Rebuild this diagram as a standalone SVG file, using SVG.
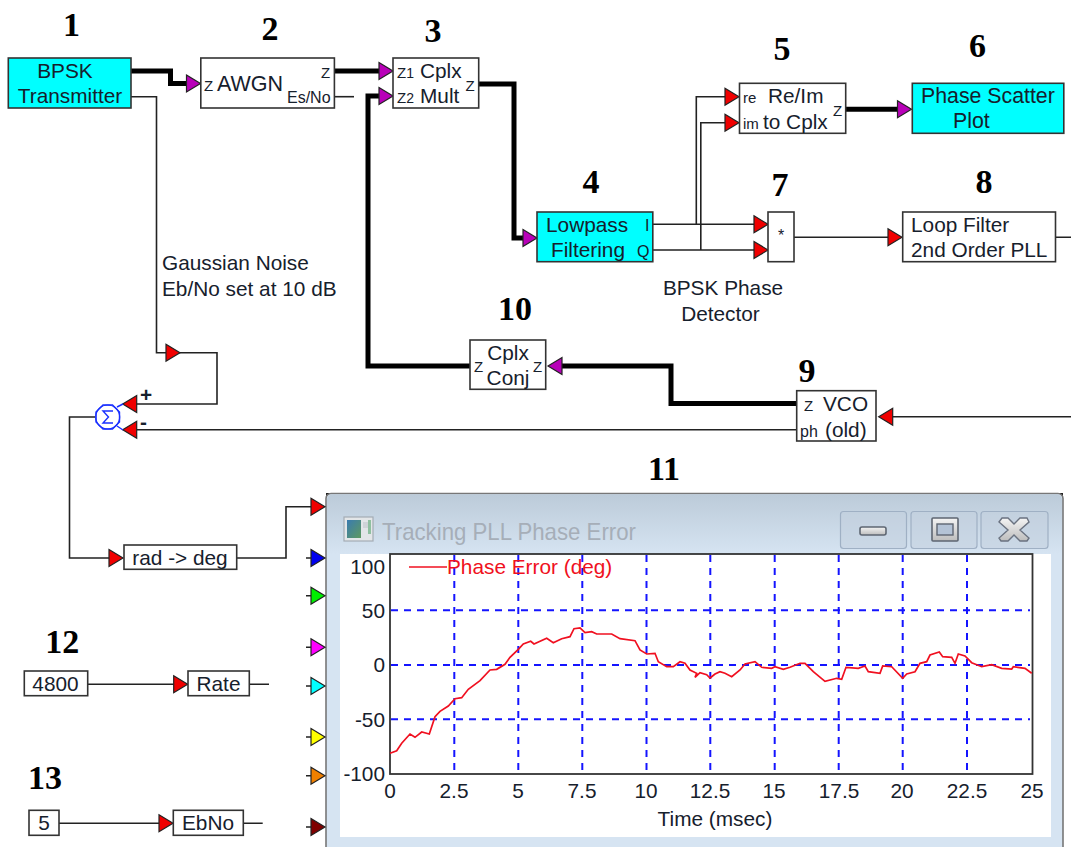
<svg xmlns="http://www.w3.org/2000/svg" width="1071" height="847" viewBox="0 0 1071 847">
<style>
text{font-family:"Liberation Sans",Arial,sans-serif;fill:#16202c;font-size:20.800px}
.num{font-family:"Liberation Serif","Times New Roman",serif;font-weight:bold;font-size:34px;fill:#000;text-anchor:middle}
.m{text-anchor:middle}
.s{font-size:16px}
.z{font-size:15px}
.box{fill:#fff;stroke:#333;stroke-width:1.6}
.cy{fill:#00ffff;stroke:#333;stroke-width:1.6}
.w{fill:none;stroke:#222;stroke-width:1.6}
.t{fill:none;stroke:#000;stroke-width:5}
.r{fill:#f00000}.p{fill:#b800b8}
.grid{stroke:#1414ff;stroke-width:2;stroke-dasharray:7 6;fill:none}
.btn{fill:#c3d0df;fill-opacity:.55;stroke:#9fb0c4;stroke-width:1.2}
</style>
<defs>
<polygon id="tri" points="-14,-8.5 0,0 -14,8.5" stroke="#222" stroke-width="1.2"/>
<linearGradient id="frame" x1="0" y1="0" x2="0" y2="1"><stop offset="0" stop-color="#bccbd9"/><stop offset="1" stop-color="#d6e4f2"/></linearGradient>
<linearGradient id="icon" x1="0" y1="0" x2="1" y2="1"><stop offset="0" stop-color="#3a7bb0"/><stop offset="1" stop-color="#5e9a60"/></linearGradient>
<linearGradient id="btnface" x1="0" y1="0" x2="0" y2="1"><stop offset="0" stop-color="#f4f4f4"/><stop offset="1" stop-color="#bdbdbd"/></linearGradient>
</defs>
<rect width="1071" height="847" fill="#fff"/>

<g id="plot-window">
<path d="M326 493H332L326 499ZM1063 493H1057L1063 499Z" fill="#222"/>
<rect x="326" y="493.500" width="737" height="360" rx="5" fill="#d6e4f2" stroke="#777" stroke-width="1.600"/>
<rect x="327" y="494.500" width="735" height="60" rx="5" fill="url(#frame)"/>
<rect x="340" y="554" width="711" height="283" fill="#fff"/>
<g id="window-icon"><rect x="344" y="517" width="29" height="24" fill="#e3e6e8" stroke="#a4acb4" stroke-width="1.200"/><rect x="347" y="520" width="14" height="18" fill="url(#icon)"/><rect x="363" y="522" width="7" height="6" fill="#cfd4d8"/><rect x="368" y="520" width="3" height="14" fill="#8fc0a0"/></g>
<text x="382" y="540" style="font-size:24px;fill:#a6aeb8" textLength="254" lengthAdjust="spacingAndGlyphs">Tracking PLL Phase Error</text>
<rect class="btn" x="840.500" y="511.500" width="66" height="37" rx="3"/>
<rect class="btn" x="911" y="511.500" width="66" height="37" rx="3"/>
<rect class="btn" x="981" y="511.500" width="67" height="37" rx="3"/>
<rect x="860" y="527" width="26" height="8" rx="2" fill="url(#btnface)" stroke="#5e6672" stroke-width="1.600"/>
<rect x="932" y="518" width="26" height="23" rx="1" fill="url(#btnface)" stroke="#5e6672" stroke-width="1.600"/>
<rect x="937" y="524" width="16" height="11" fill="#b4c3d6" stroke="#5e6672" stroke-width="1.400"/>
<path d="M1002,518 L1008,518 L1014,524 L1020,518 L1027,518 L1029,522 L1020,530 L1029,538 L1027,541 L1020,541 L1014,535 L1008,541 L1001,541 L999,538 L1008,530 L999,522 Z" fill="url(#btnface)" stroke="#6a7280" stroke-width="1.400"/>
<path class="grid" d="M454.300 555V772M518.300 555V772M582.300 555V772M646.500 555V772M710.300 555V772M774.700 555V772M838.700 555V772M902.700 555V772M967 555V772M391 610.300H1030M391 665H1030M391 719.300H1030"/>
<rect x="390" y="554" width="642.500" height="220" fill="none" stroke="#333" stroke-width="1.800"/>
<polyline fill="none" stroke="#f01020" stroke-width="1.700" points="390,753.300 396.700,750.700 401.700,743.300 410,734 415,737.300 421.700,732 429.300,734 435,716.700 440,711.300 448.300,706 455,698.700 461.700,697.700 468.300,689.300 480,680.700 490,670 496.700,669.300 505,664.300 510,657.300 518.300,649.300 523.300,644 530.700,641.300 534,644 546.700,638.300 553.300,642.700 561.700,638.700 570,636.700 574,628.700 580,628 585,632.700 591.700,631.700 596.700,634 611.700,634 620,638.700 635,640.700 640,650 646.700,654 655,653.300 658.300,661.700 666.700,666.700 673.300,666.700 680,661.700 685,663.300 690,670 696.700,673.300 695,677.300 700,672.700 706.700,674.700 710,678 715,674 720,671.700 725,673.300 731.700,676.700 740,670 745,664 755,661.700 761.700,667.300 771.700,668.300 775,666.700 783.300,669.300 790,667.300 800,663.300 805,663.300 813.300,671.700 825,681.300 836.700,678.300 841.700,679.300 846,667.300 858.300,668.300 865,666 868.300,671.700 880,673.300 882.700,666 891.700,666.700 902.700,678.300 906.700,674 915,671.700 920,663.300 926.700,661.700 930,655 939.300,652 942.700,656.700 951.700,657.300 955,663.300 958.300,654 965,656 971.700,662.700 981.700,666.700 991.700,664.700 1001.700,668.300 1011.700,669 1013.300,666.700 1025,668.300 1031.700,673.300"/>
<path d="M409 567H447" stroke="#f01020" stroke-width="1.600"/>
<text x="447" y="574" style="fill:#f01020">Phase Error (deg)</text>
<g text-anchor="end">
<text x="385" y="574">100</text><text x="385" y="618">50</text><text x="385" y="672">0</text><text x="385" y="727">-50</text><text x="385" y="781">-100</text>
</g>
<g text-anchor="middle">
<text x="390" y="798">0</text><text x="454" y="798">2.5</text><text x="518" y="798">5</text><text x="582" y="798">7.5</text><text x="646" y="798">10</text><text x="710" y="798">12.5</text><text x="774" y="798">15</text><text x="839" y="798">17.5</text><text x="902" y="798">20</text><text x="967" y="798">22.5</text><text x="1032" y="798">25</text>
<text x="715" y="826">Time (msec)</text>
</g>
</g>

<g id="connectors">
<path class="t" d="M131 71H170.500V83.500H188"/>
<path class="t" d="M334 71H381"/>
<path class="t" d="M381 96H368V366H470"/>
<path class="t" d="M478.700 84H514V238H525"/>
<path class="t" d="M845.700 109.300H900"/>
<path class="t" d="M560 366H671V403.500H797"/>
<path class="w" d="M131 96.700H156.500V352.700H217V404H134"/>
<path class="w" d="M334 96.700H354"/>
<path class="w" d="M652.800 224.300H755M652.800 250H755"/>
<path class="w" d="M696.300 224.300V96.700H726M700.800 250V122.700H726"/>
<path class="w" d="M794 237.300H890M1055.500 237.300H1071"/>
<path class="w" d="M1071 416.700H890"/>
<path class="w" d="M797 429.700H134"/>
<path class="w" d="M95 417H69.500V558H110"/>
<path class="w" d="M236.700 558H286V506.700H312"/>
<path class="w" d="M306 558H312M306 595.700H312M306 647.300H312M306 686H312M306 737H312M306 775.700H312M306 827H312"/>
<path class="w" d="M87.700 684.300H175M249.300 684.300H269"/>
<path class="w" d="M59 823.300H160M243.300 823.300H262.700"/>
<g class="p">
<use href="#tri" transform="translate(200.500 83.500)"/>
<use href="#tri" transform="translate(393 71)"/>
<use href="#tri" transform="translate(393 96)"/>
<use href="#tri" transform="translate(537 238)"/>
<use href="#tri" transform="translate(911.500 109.300)"/>
<use href="#tri" transform="translate(548 366) rotate(180)"/>
</g>
<g class="r">
<use href="#tri" transform="translate(739 96.700)"/>
<use href="#tri" transform="translate(739 122.700)"/>
<use href="#tri" transform="translate(768 224.300)"/>
<use href="#tri" transform="translate(768 250)"/>
<use href="#tri" transform="translate(902 237.300)"/>
<use href="#tri" transform="translate(878.700 416.700) rotate(180)"/>
<use href="#tri" transform="translate(180 352.700)"/>
<use href="#tri" transform="translate(122.700 404) rotate(180)"/>
<use href="#tri" transform="translate(122.700 429.700) rotate(180)"/>
<use href="#tri" transform="translate(123 558)"/>
<use href="#tri" transform="translate(325 506.700)"/>
<use href="#tri" transform="translate(187.700 684.300)"/>
<use href="#tri" transform="translate(173 823.300)"/>
</g>
<use href="#tri" fill="#0000f0" transform="translate(325 558)"/>
<use href="#tri" fill="#00f000" transform="translate(325 595.700)"/>
<use href="#tri" fill="#ff00ff" transform="translate(325 647.300)"/>
<use href="#tri" fill="#00ffff" transform="translate(325 686)"/>
<use href="#tri" fill="#ffff00" transform="translate(325 737)"/>
<use href="#tri" fill="#f08000" transform="translate(325 775.700)"/>
<use href="#tri" fill="#800000" transform="translate(325 827)"/>
</g>

<g id="node1"><rect class="cy" x="8.300" y="58" width="122.700" height="50"/><text class="m" x="65" y="78">BPSK</text><text class="m" x="70" y="103">Transmitter</text><text class="num" x="71.600" y="36">1</text></g>
<g id="node2"><rect class="box" x="200.800" y="58" width="133.600" height="50"/><text class="z" x="204" y="91">Z</text><text x="217" y="91" style="font-size:21.500px">AWGN</text><text class="z" x="321" y="78">Z</text><text class="s" x="287" y="103">Es/No</text><text class="num" x="270" y="39.500">2</text></g>
<g id="node3"><rect class="box" x="393" y="58" width="85.700" height="50"/><text class="z" x="397" y="78">Z<tspan style="font-size:14px">1</tspan></text><text x="420" y="78">Cplx</text><text class="z" x="397" y="103">Z<tspan style="font-size:14px">2</tspan></text><text x="420" y="103">Mult</text><text class="z" x="465.500" y="91">Z</text><text class="num" x="433" y="42">3</text></g>
<g id="node4"><rect class="cy" x="537" y="212" width="115.800" height="49.700"/><text x="546" y="232">Lowpass</text><text x="551" y="257">Filtering</text><text class="s" x="645" y="231">I</text><text class="s" x="637" y="257">Q</text><text class="num" x="591" y="193">4</text></g>
<g id="node5"><rect class="box" x="739.500" y="83.300" width="106.200" height="50"/><text class="z" x="743" y="103">re</text><text class="z" x="743" y="129">im</text><text x="768" y="103">Re/Im</text><text x="763" y="129">to Cplx</text><text class="z" x="833" y="116">Z</text><text class="num" x="782" y="60">5</text></g>
<g id="node6"><rect class="cy" x="912.300" y="83.300" width="151.500" height="50"/><text x="921" y="103" style="font-size:21.300px">Phase Scatter</text><text x="953" y="128" style="font-size:21.300px">Plot</text><text class="num" x="977.600" y="57">6</text></g>
<g id="node7"><rect class="box" x="768" y="212" width="26" height="49.700"/><text class="m s" x="781" y="241">*</text><text class="num" x="780" y="196">7</text></g>
<g id="node8"><rect class="box" x="902.700" y="212" width="152.800" height="49.700"/><text x="911" y="232">Loop Filter</text><text x="911" y="257">2nd Order PLL</text><text class="num" x="984" y="193">8</text></g>
<g id="node9"><rect class="box" x="796.700" y="390.700" width="79.300" height="50.300"/><text class="z" x="804" y="411">Z</text><text x="823" y="411">VCO</text><text class="s" x="800" y="437">ph</text><text x="825" y="437">(old)</text><text class="num" x="807" y="382">9</text></g>
<g id="node10"><rect class="box" x="470" y="340" width="75.700" height="49.300"/><text class="z" x="474" y="372">Z</text><text class="m" x="508" y="360">Cplx</text><text class="m" x="508" y="385">Conj</text><text class="z" x="533" y="372">Z</text><text class="num" x="515" y="320">10</text></g>
<g id="label11"><text class="num" x="664" y="480">11</text></g>
<g id="node-sum"><path d="M103 405L112.500 405L119.500 412L119.500 422L112.500 429L103 429L96 422L96 412Z" fill="#fff" stroke="#1a30ff" stroke-width="1.400"/><circle cx="107.700" cy="417" r="12" fill="none" stroke="#1a30ff" stroke-width="1.200"/><path d="M113 411H103L108.500 417L103 423H113M117 407L123 404M117 426L123 430" fill="none" stroke="#1a30ff" stroke-width="1.400"/><text x="140" y="402" style="font-weight:bold">+</text><text x="140" y="429" style="font-weight:bold">-</text></g>
<g id="node-rad"><rect class="box" x="124" y="545" width="112.700" height="24.300"/><text class="m" x="180" y="565">rad -&gt; deg</text></g>
<g id="node12"><rect class="box" x="24.300" y="671" width="63.400" height="24.700"/><text class="m" x="55.500" y="691">4800</text><rect class="box" x="188" y="671" width="61.300" height="24.700"/><text class="m" x="218.500" y="691">Rate</text><text class="num" x="62.300" y="653">12</text></g>
<g id="node13"><rect class="box" x="29" y="810.300" width="30" height="25"/><text class="m" x="44" y="830">5</text><rect class="box" x="173.300" y="810.300" width="70" height="25"/><text class="m" x="208" y="830">EbNo</text><text class="num" x="45" y="789">13</text></g>
<g id="notes"><text x="162" y="270">Gaussian Noise</text><text x="162" y="296">Eb/No set at 10 dB</text><text class="m" x="723" y="295">BPSK Phase</text><text class="m" x="720.500" y="321">Detector</text></g>
</svg>
